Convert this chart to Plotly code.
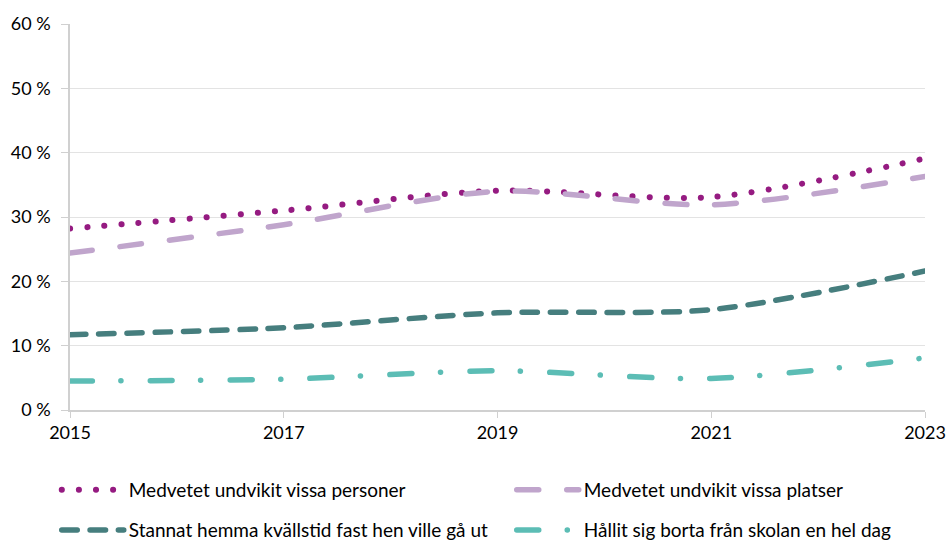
import plotly.graph_objects as go

years = [2015, 2017, 2019, 2021, 2023]
personer = [28.2, 31.0, 34.1, 33.1, 39.1]
platser = [24.4, 28.8, 34.0, 31.9, 36.3]
stannat = [11.7, 12.8, 15.1, 15.6, 21.6]
hallit = [4.5, 4.8, 6.1, 4.9, 8.1]

names = [
    "Medvetet undvikit vissa personer",
    "Medvetet undvikit vissa platser",
    "Stannat hemma kvällstid fast hen ville gå ut",
    "Hållit sig borta från skolan en hel dag",
]
y_tickvals = [0, 10, 20, 30, 40, 50, 60]
y_ticktext = ["0 %", "10 %", "20 %", "30 %", "40 %", "50 %", "60 %"]
x_tickvals = [2015, 2017, 2019, 2021, 2023]
x_ticktext = ["2015", "2017", "2019", "2021", "2023"]

FONT = "Lato"
series = [
    (personer, "#951B81", 6, "0.1px,17px", "legend"),
    (platser, "#C0A5CC", 5.5, "22px,28px", "legend"),
    (stannat, "#467E7E", 5.5, "15.5px,12.8px", "legend2"),
    (hallit, "#5CBDB5", 5.5, "22px,28.5px,0.1px,29.4px", "legend2"),
]

fig = go.Figure()
for (vals, color, w, dash, lg), name in zip(series, names):
    fig.add_trace(go.Scatter(
        x=years, y=vals, name=name, mode="lines",
        line=dict(color=color, width=w, dash=dash, shape="spline", smoothing=0.8),
        legend=lg, hoverinfo="skip",
    ))

legend_common = dict(
    orientation="h", xanchor="left", yanchor="middle",
    font=dict(family=FONT, size=19, color="#000000"),
    itemwidth=62, entrywidth=378, entrywidthmode="pixels",
    bgcolor="rgba(0,0,0,0)", tracegroupgap=0,
)

fig.update_layout(
    width=949, height=542,
    margin=dict(l=70, r=24, t=24, b=132, autoexpand=False),
    plot_bgcolor="white", paper_bgcolor="white",
    font=dict(family=FONT, size=18, color="#000000"),
    showlegend=True,
    legend=dict(x=-0.0155, y=-0.207, **legend_common),
    legend2=dict(x=-0.0155, y=-0.311, **legend_common),
    xaxis=dict(
        range=[2015, 2023], tickvals=x_tickvals, ticktext=x_ticktext,
        showgrid=False, showline=True, linecolor="#D0D0D0", linewidth=1.5,
        ticks="outside", ticklen=6, tickcolor="#D0D0D0", automargin=False,
        tickfont=dict(family=FONT, size=18, color="#000000"), zeroline=False,
    ),
    yaxis=dict(
        range=[0, 60], tickvals=y_tickvals, ticktext=y_ticktext,
        showgrid=True, gridcolor="#E3E3E3", gridwidth=1,
        showline=True, linecolor="#D0D0D0", linewidth=1.5, automargin=False,
        ticks="outside", ticklen=7, tickcolor="#D0D0D0", ticklabelstandoff=7,
        tickfont=dict(family=FONT, size=18, color="#000000"), zeroline=False,
    ),
)

post = """
document.body.style.margin='0';
document.body.style.overflow='hidden';
function rc(){document.querySelectorAll('path.js-line, .legendlines path').forEach(function(p){p.style.strokeLinecap='round';});}
rc(); setTimeout(rc, 50);
"""
fig.write_html("out.html", post_script=post, config={"displayModeBar": False})
